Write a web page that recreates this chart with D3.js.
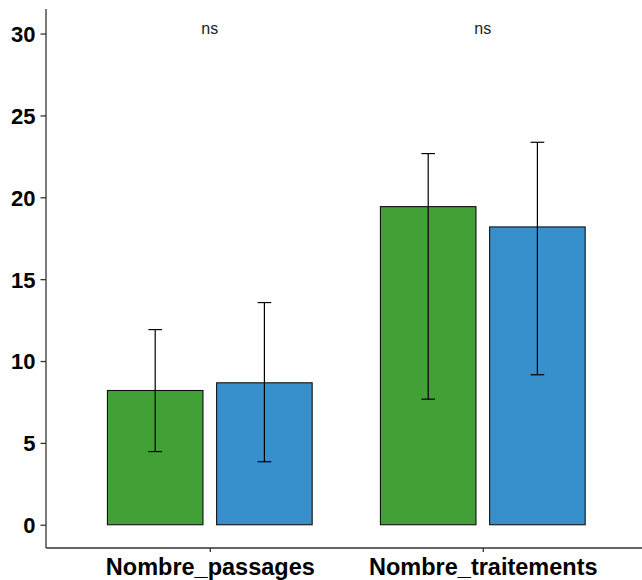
<!DOCTYPE html>
<html>
<head>
<meta charset="utf-8">
<script src="https://cdn.jsdelivr.net/npm/d3@7"></script>
<style>
  html, body { margin: 0; padding: 0; background: #fff; }
  svg { display: block; }
  text { font-family: "Liberation Sans", Arial, sans-serif; }
</style>
</head>
<body>
<svg id="chart" width="642" height="580"></svg>
<script>
const categories = ["Nombre_passages", "Nombre_traitements"];
const groups = ["Groupe_1", "Groupe_2"];
const colors = ["#41a137", "#378fcb"];
const meanG1 = [8.2, 19.43];
const meanG2 = [8.67, 18.19];
const upperG1 = [11.92, 22.67];
const lowerG1 = [4.47, 7.67];
const upperG2 = [13.57, 23.36];
const lowerG2 = [3.85, 9.16];
const yTicks = [0, 5, 10, 15, 20, 25, 30];
const sigLabels = ["ns", "ns"];
const sigY = 30;

const rows = [];
categories.forEach((c, i) => {
  rows.push({cat: c, grp: groups[0], mean: meanG1[i], lo: lowerG1[i], hi: upperG1[i], color: colors[0]});
  rows.push({cat: c, grp: groups[1], mean: meanG2[i], lo: lowerG2[i], hi: upperG2[i], color: colors[1]});
});

const svg = d3.select("#chart");
const mLeft = 46, mRight = 646.6, mTop = 9, mBottom = 548;

const x = d3.scalePoint().domain(categories).range([mLeft, mRight]).padding(0.6);
const step = x.step();
const xs = d3.scaleBand().domain(groups).range([-0.4 * step, 0.4 * step]).paddingInner(0.125).paddingOuter(0.0625);
const y = d3.scaleLinear().domain([-1.42, 31.5]).range([mBottom, mTop]);

// bars
svg.append("g").selectAll("rect").data(rows).join("rect")
  .attr("x", d => x(d.cat) + xs(d.grp))
  .attr("width", xs.bandwidth())
  .attr("y", d => y(d.mean))
  .attr("height", d => y(0) - y(d.mean))
  .attr("fill", d => d.color)
  .attr("stroke", "#111")
  .attr("stroke-width", 1.1);

// error bars
const capHalf = 0.025 * step;
const eb = svg.append("g").attr("stroke", "#000").attr("stroke-width", 1.2).attr("fill", "none");
rows.forEach(d => {
  const cx = x(d.cat) + xs(d.grp) + xs.bandwidth() / 2;
  eb.append("line").attr("x1", cx).attr("x2", cx).attr("y1", y(d.hi)).attr("y2", y(d.lo));
  eb.append("line").attr("x1", cx - capHalf).attr("x2", cx + capHalf).attr("y1", y(d.hi)).attr("y2", y(d.hi));
  eb.append("line").attr("x1", cx - capHalf).attr("x2", cx + capHalf).attr("y1", y(d.lo)).attr("y2", y(d.lo));
});

// y axis
const yAxis = d3.axisLeft(y).tickValues(yTicks).tickSize(5.5).tickPadding(5);
const gy = svg.append("g").attr("transform", `translate(${mLeft},0)`).call(yAxis);
gy.select(".domain").attr("stroke", "#333").attr("stroke-width", 1.3).attr("d", `M0,${mTop}V${mBottom}`);
gy.selectAll(".tick line").attr("stroke", "#333").attr("stroke-width", 1.3);
gy.selectAll(".tick text").attr("fill", "#000").style("font-size", "22px").style("font-weight", "bold")
  .style("font-family", "'Liberation Sans', Arial, sans-serif").attr("dy", "0.36em");

// x axis
const xAxis = d3.axisBottom(x).tickSize(4).tickPadding(6);
const gx = svg.append("g").attr("transform", `translate(0,${mBottom})`).call(xAxis);
gx.select(".domain").attr("stroke", "#333").attr("stroke-width", 1.3).attr("d", `M${mLeft},0H${mRight}`);
gx.selectAll(".tick line").attr("stroke", "#333").attr("stroke-width", 1.3);
gx.selectAll(".tick text").attr("fill", "#000").style("font-size", "23.5px").style("font-weight", "bold")
  .style("font-family", "'Liberation Sans', Arial, sans-serif").attr("dy", "0.72em");

// significance labels
svg.append("g").selectAll("text").data(categories).join("text")
  .attr("x", d => x(d))
  .attr("y", y(sigY) + 0.7)
  .attr("text-anchor", "middle")
  .style("font-size", "16px")
  .attr("fill", "#222")
  .text((d, i) => sigLabels[i]);
</script>
</body>
</html>
